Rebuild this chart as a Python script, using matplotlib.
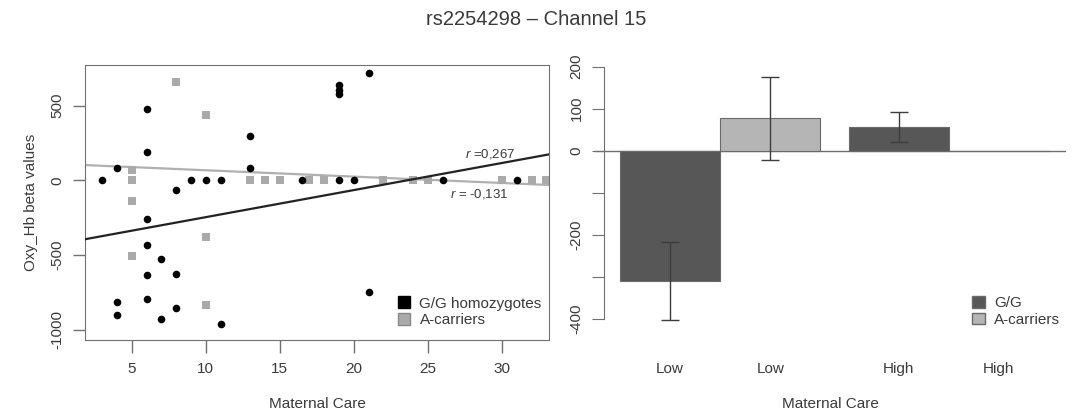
"""Recreate the rs2254298 Channel 15 figure: scatter with fits plus bar chart."""

import matplotlib

matplotlib.use("Agg")
import matplotlib.pyplot as plt
from matplotlib.lines import Line2D
from matplotlib.patches import Patch

# --- scatter data (Maternal Care vs Oxy_Hb beta values) ---
gg_care = [3, 4, 4, 4, 6, 6, 6, 6, 6, 6, 7, 7, 8, 8, 8, 9, 10, 11, 11,
           13, 13, 16.5, 19, 19, 19, 19, 20, 21, 21, 26, 31]
gg_beta = [0, 80, -810, -900, 480, 190, -260, -430, -635, -795, -525, -925,
           -65, -625, -855, 0, 0, 0, -960, 295, 80, 0, 635, 605, 580, 0, 0,
           720, -745, 0, 0]
a_care = [5, 5, 5, 5, 8, 10, 10, 10, 13, 14, 15, 17, 18, 22, 24, 25, 30, 32, 33]
a_beta = [70, 0, -140, -505, 655, 440, -380, -830, 0, 0, 0, 0, 0, 0, 0, 0, 0, 0, 0]

# regression lines (intercept, slope) and correlation labels
gg_fit = (-427, 18.1)
a_fit = (110, -4.25)
gg_r = "0,267"
a_r = "-0,131"

# --- bar data ---
bar_labels = ["Low", "Low", "High", "High"]
bar_groups = ["G/G", "A-carriers", "G/G", "A-carriers"]
bar_means = [-310, 77, 56, 0]
bar_errs = [93, 99, 35, 0]

DARK = "#575757"
LIGHT = "#b5b5b5"
TEXT = "#3a3a3a"
FRAME = "#707070"
FS = 11

plt.rcParams["font.family"] = ["Liberation Sans", "DejaVu Sans"]
plt.rcParams["axes.unicode_minus"] = False
plt.rcParams["mathtext.fontset"] = "custom"
plt.rcParams["mathtext.it"] = "Liberation Sans:italic"
plt.rcParams["mathtext.rm"] = "Liberation Sans"

fig = plt.figure(figsize=(10.72, 4.16), dpi=100)
fig.suptitle("rs2254298 \u2013 Channel 15", y=0.975, fontsize=14.5, color=TEXT)

# ---------------- left panel: scatter ----------------
ax1 = fig.add_axes([85 / 1072, 76 / 416, 464 / 1072, 275 / 416])
ax1.set_xlim(1.847, 33.18)
ax1.set_ylim(-1067, 771)
ax1.scatter(gg_care, gg_beta, s=30, c="black", marker="o", zorder=3, linewidths=0)
ax1.scatter(a_care, a_beta, s=30, c="#aaaaaa", marker="s", zorder=2, linewidths=0)
ax1.axline((0, gg_fit[0]), slope=gg_fit[1], color="#222222", lw=1.6, zorder=4)
ax1.axline((0, a_fit[0]), slope=a_fit[1], color="#b0b0b0", lw=1.6, zorder=1)
ax1.text(27.5, 176, r"$r$ =" + gg_r, fontsize=9.5, color=TEXT, va="center")
ax1.text(26.5, -93, r"$r$ = " + a_r, fontsize=9.5, color=TEXT, va="center")

ax1.set_xticks([5, 10, 15, 20, 25, 30])
ax1.set_yticks([500, 0, -500, -1000])
ax1.tick_params(axis="both", labelsize=FS, colors=FRAME, labelcolor=TEXT, length=9, width=1)
ax1.tick_params(axis="x", pad=7)
ax1.tick_params(axis="y", pad=6)
for lab in ax1.get_yticklabels():
    lab.set_rotation(90)
    lab.set_va("center")
for sp in ax1.spines.values():
    sp.set_color(FRAME)
ax1.set_xlabel("Maternal Care", fontsize=FS, color=TEXT, labelpad=15)
ax1.set_ylabel("Oxy_Hb beta values", fontsize=FS, color=TEXT, labelpad=9)

scatter_handles = [
    Line2D([], [], marker="s", ls="", color="black", markersize=8, label="G/G homozygotes"),
    Line2D([], [], marker="s", ls="", color="#aaaaaa", markeredgecolor="#888888",
           markersize=8, label="A-carriers"),
]
ax1.legend(handles=scatter_handles, loc="lower left", bbox_to_anchor=(0.655, 0.02),
           frameon=False, fontsize=FS, handlelength=1.0, handletextpad=0.5,
           labelspacing=0.15, borderpad=0, labelcolor=TEXT)

# ---------------- right panel: bars ----------------
ax2 = fig.add_axes([595 / 1072, 76 / 416, 471 / 1072, 275 / 416])
ax2.set_xlim(0, 4.7)
ax2.set_ylim(-449.6, 203.6)
centers = [0.75, 1.75, 3.03, 4.03]
colors = [DARK if g == "G/G" else LIGHT for g in bar_groups]
ax2.bar(centers, bar_means, width=1.0, color=colors, edgecolor="#6a6a6a", lw=0.8, zorder=2)
for c, m, e in zip(centers, bar_means, bar_errs):
    if e > 0:
        ax2.errorbar(c, m, yerr=e, fmt="none", ecolor="#3d3d3d", elinewidth=1,
                     capsize=6.5, capthick=1, zorder=3)
ax2.axhline(0, color="#707070", lw=1, zorder=1)

for name in ["top", "right", "bottom"]:
    ax2.spines[name].set_visible(False)
ax2.spines["left"].set_position(("data", 0.093))
ax2.spines["left"].set_bounds(-400, 200)
ax2.spines["left"].set_color(FRAME)
ax2.set_yticks([200, 100, 0, -100, -200, -300, -400])
ax2.set_yticklabels(["200", "100", "0", "", "-200", "", "-400"])
for lab in ax2.get_yticklabels():
    lab.set_rotation(90)
    lab.set_va("center")
ax2.tick_params(axis="y", labelsize=FS, colors=FRAME, labelcolor=TEXT, length=9, pad=6)
ax2.set_xticks(centers)
ax2.set_xticklabels(bar_labels)
ax2.tick_params(axis="x", length=0, labelsize=FS, labelcolor=TEXT, pad=16)
ax2.set_xlabel("Maternal Care", fontsize=FS, color=TEXT, labelpad=15)

bar_handles = [
    Patch(facecolor=DARK, edgecolor="#6a6a6a", label="G/G"),
    Patch(facecolor=LIGHT, edgecolor="#6a6a6a", label="A-carriers"),
]
ax2.legend(handles=bar_handles, loc="lower left", bbox_to_anchor=(0.785, 0.02),
           frameon=False, fontsize=FS, handlelength=0.8, handleheight=0.8,
           handletextpad=0.6, labelspacing=0.15, borderpad=0, labelcolor=TEXT)

fig.savefig("out.png", dpi=100)
